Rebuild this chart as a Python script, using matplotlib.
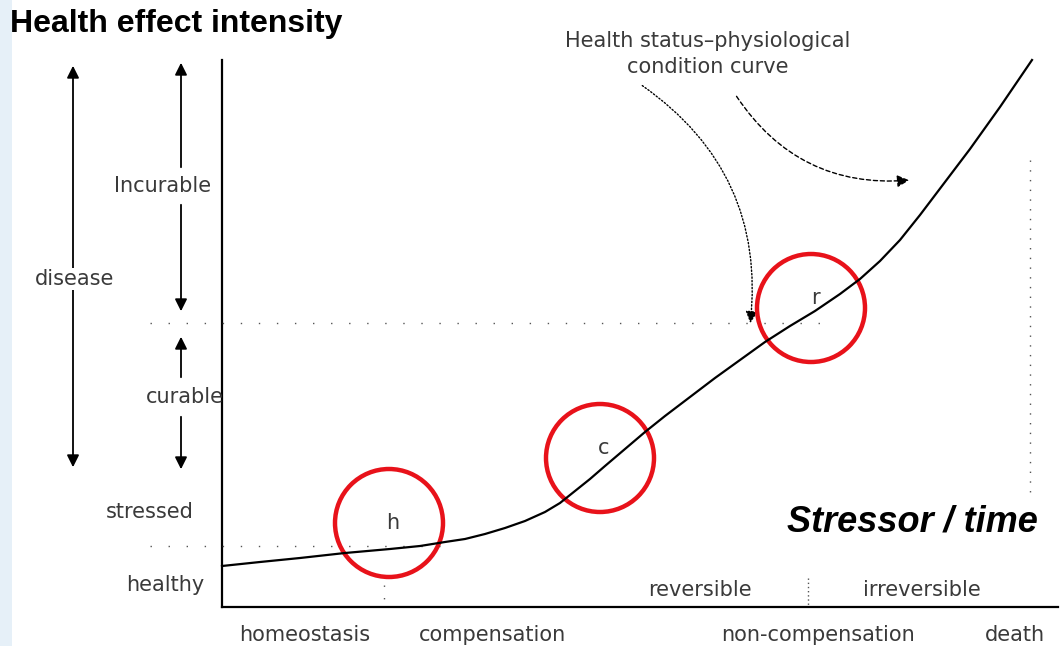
import numpy as np
import matplotlib
matplotlib.use("Agg")
import matplotlib.pyplot as plt
from matplotlib.patches import Circle, FancyArrowPatch, Rectangle

# health status curve (pixel coordinates)
curve_x = [222, 260, 300, 345, 390, 420, 445, 465, 485, 505, 525, 545, 560,
           575, 590, 605, 625, 645, 665, 690, 715, 740, 765, 790, 815, 840,
           860, 880, 900, 920, 945, 970, 1000, 1032]
curve_y = [566, 562, 558, 553, 549, 546, 542, 539, 534, 528, 521, 512, 503,
           491, 479, 466, 449, 432, 416, 397, 378, 360, 342, 326, 311, 294,
           279, 261, 240, 215, 182, 149, 107, 60]

# highlighted stages on the curve
stage_labels = ["h", "c", "r"]
stage_x = [389, 600, 811]
stage_y = [523, 458, 308]
stage_r = 54

# labels along the bottom axis
phase_labels = ["homeostasis", "compensation", "non-compensation", "death"]
phase_x = [305, 492, 818, 1015]

# labels along the left side
level_labels = ["stressed", "healthy"]
level_x = [150, 165]
level_y = [512, 585]

fig = plt.figure(figsize=(10.61, 6.46), dpi=100)
ax = fig.add_axes([0, 0, 1, 1])
ax.set_xlim(0, 1061)
ax.set_ylim(646, 0)
ax.axis("off")

txt = dict(color="#3a3a3a", fontsize=15, family="DejaVu Sans")

# faint blue strip on the left edge
ax.add_patch(Rectangle((0, 0), 12, 646, color="#e6f0f8", lw=0))

# axes
ax.plot([222, 222], [60, 607], color="black", lw=1.6)
ax.plot([222, 1058], [607, 607], color="black", lw=1.6)

# dotted guide lines
ax.plot([150, 830], [323, 323], color="#555555", lw=1, ls=(0, (1, 12)))
ax.plot([150, 440], [546, 546], color="#555555", lw=1, ls=(0, (1, 12)))
ax.plot([1030, 1030], [160, 500], color="#555555", lw=1, ls=(0, (1, 6)))
ax.plot([808, 808], [578, 606], color="#555555", lw=1, ls=(0, (1, 2)))
ax.plot([384, 384], [585, 606], color="#555555", lw=1, ls=(0, (1, 8)))

# curve
ax.plot(curve_x, curve_y, color="black", lw=1.6)

# double arrows on the left
head = dict(mutation_scale=18, color="black", lw=1.3)
ax.add_patch(FancyArrowPatch((73, 63), (73, 470), arrowstyle="<|-|>", **head))
ax.add_patch(FancyArrowPatch((181, 60), (181, 170), arrowstyle="<|-", **head))
ax.add_patch(FancyArrowPatch((181, 202), (181, 314), arrowstyle="-|>", **head))
ax.add_patch(FancyArrowPatch((181, 334), (181, 380), arrowstyle="<|-", **head))
ax.add_patch(FancyArrowPatch((181, 414), (181, 472), arrowstyle="-|>", **head))

ax.text(75, 279, "disease", ha="center", va="center",
        bbox=dict(fc="white", ec="none", pad=1), **txt)
ax.text(163, 186, "Incurable", ha="center", va="center", **txt)
ax.text(185, 397, "curable", ha="center", va="center", **txt)
for lab, x, y in zip(level_labels, level_x, level_y):
    ax.text(x, y, lab, ha="center", va="center", **txt)
for lab, x in zip(phase_labels, phase_x):
    ax.text(x, 635, lab, ha="center", va="center", **txt)
ax.text(700, 590, "reversible", ha="center", va="center", **txt)
ax.text(922, 590, "irreversible", ha="center", va="center", **txt)

# curve caption with curved arrows
ax.text(708, 54, "Health status\u2013physiological\ncondition curve",
        ha="center", va="center", linespacing=1.4, **txt)
ax.add_patch(FancyArrowPatch((640, 84), (750, 326),
                             connectionstyle="arc3,rad=-0.3",
                             arrowstyle="-|>", mutation_scale=18,
                             color="black", lw=1, ls=(0, (1, 1.5))))
ax.add_patch(FancyArrowPatch((735, 94), (912, 180),
                             connectionstyle="arc3,rad=0.3",
                             arrowstyle="-|>", mutation_scale=18,
                             color="black", lw=1, ls=(0, (3, 2))))

# red stage circles
for lab, x, y in zip(stage_labels, stage_x, stage_y):
    ax.add_patch(Circle((x, y), stage_r, fill=False, ec="#e8121a", lw=3.2))
    ax.text(x + 4, y - 10 if lab != "h" else y, lab, ha="center",
            va="center", **txt)

ax.text(10, 24, "Health effect intensity", fontsize=23, fontweight="bold",
        ha="left", va="center", family="Liberation Sans")
ax.text(912, 522, "Stressor / time", fontsize=26, fontweight="bold",
        style="italic", ha="center", va="center", family="Liberation Sans")

fig.savefig("out.png", dpi=100)
